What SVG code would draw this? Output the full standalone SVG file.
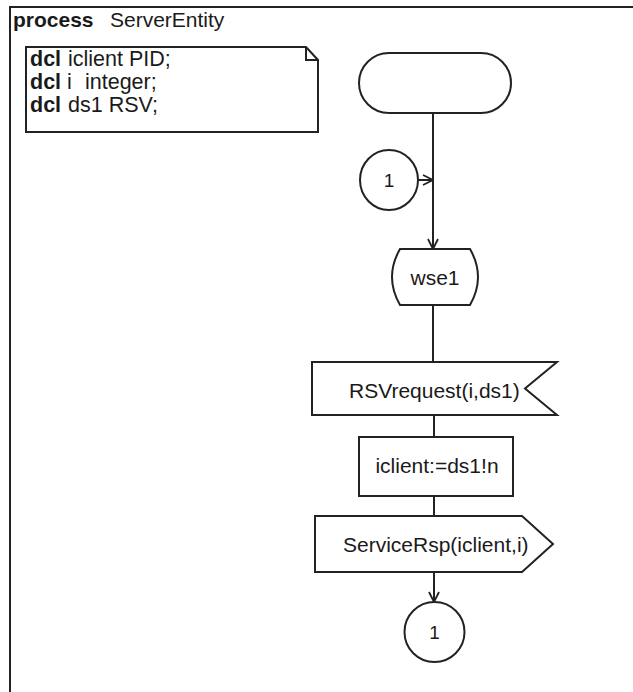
<svg xmlns="http://www.w3.org/2000/svg" width="633" height="692" viewBox="0 0 633 692">
<defs>
<marker id="open" viewBox="0 0 12 12" refX="11" refY="6" markerWidth="12" markerHeight="12" markerUnits="userSpaceOnUse" orient="auto">
<path d="M1,1 L11,6 L1,11" fill="none" stroke="#222" stroke-width="1.8"/>
</marker>
<style>
.s{fill:#fff;stroke:#222;stroke-width:2}
.l{fill:none;stroke:#222;stroke-width:2}
text{font-family:"Liberation Sans",Arial,sans-serif;font-size:21px;fill:#1a1a1a}
.c{text-anchor:middle}
.b{font-weight:bold}
.d{font-size:21.5px}
</style>
</defs>
<rect width="633" height="692" fill="#fff"/>
<g id="frame">
<path class="l" d="M633,7 L10,7 L10,692"/>
<text x="13" y="27"><tspan class="b">process</tspan><tspan x="110">ServerEntity</tspan></text>
</g>
<g id="decl">
<path class="s" d="M26,47 L306,47 L318,60 L318,132 L26,132 Z"/>
<path class="l" d="M306,47 L306,60 L318,60" stroke-width="1.5"/>
<text class="d" x="30" y="66"><tspan class="b">dcl</tspan><tspan x="68">iclient PID;</tspan></text>
<text class="d" x="30" y="89"><tspan class="b">dcl</tspan><tspan x="67">i</tspan><tspan x="85">integer;</tspan></text>
<text class="d" x="30" y="112"><tspan class="b">dcl</tspan><tspan x="68">ds1 RSV;</tspan></text>
</g>
<g id="connectors">
<line class="l" x1="433" y1="113" x2="433" y2="249" marker-end="url(#open)"/>
<line class="l" x1="418" y1="180" x2="433" y2="180" marker-end="url(#open)"/>
<line class="l" x1="433" y1="305" x2="433" y2="362"/>
<line class="l" x1="434" y1="415" x2="434" y2="437"/>
<line class="l" x1="434" y1="496" x2="434" y2="516"/>
<line class="l" x1="434" y1="572" x2="434" y2="602" marker-end="url(#open)"/>
</g>
<g id="start">
<rect class="s" x="359" y="53" width="152" height="60" rx="30" ry="30"/>
</g>
<g id="conn-in">
<ellipse class="s" cx="389" cy="180" rx="29" ry="30"/>
<text class="c" x="389" y="187" style="font-size:19px">1</text>
</g>
<g id="state-wse1">
<path class="s" d="M400,249 L470,249 Q486,277 470,305 L400,305 Q384,277 400,249 Z"/>
<text class="c" x="435" y="285">wse1</text>
</g>
<g id="input-RSVrequest">
<path class="s" d="M312,362 L557,362 L525,388.5 L557,415 L312,415 Z"/>
<text x="349" y="398">RSVrequest(i,ds1)</text>
</g>
<g id="task">
<rect class="s" x="359" y="437" width="154" height="59"/>
<text class="c" x="437" y="473">iclient:=ds1!n</text>
</g>
<g id="output-ServiceRsp">
<path class="s" d="M315,516 L522,516 L553,544 L522,572 L315,572 Z"/>
<text x="343" y="552">ServiceRsp(iclient,i)</text>
</g>
<g id="conn-out">
<ellipse class="s" cx="434.5" cy="632" rx="30" ry="30"/>
<text class="c" x="434.5" y="639" style="font-size:19px">1</text>
</g>
</svg>
